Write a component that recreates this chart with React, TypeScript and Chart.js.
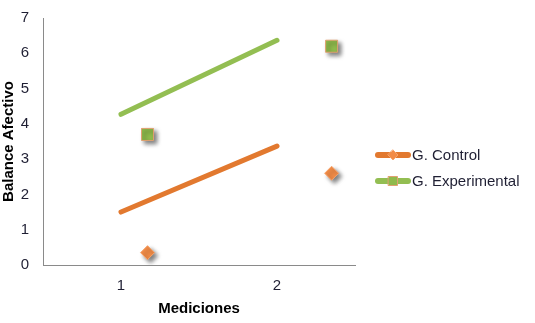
import React, { useEffect, useRef } from "react";
import { Chart, registerables } from "chart.js";

Chart.register(...registerables);

const xTicks = [1, 2];
const seriesNames = ["G. Control", "G. Experimental"];
const lineX = [1, 2];
const controlLineY = [1.5, 3.37];
const expLineY = [4.27, 6.37];
const markerX = [1.17, 2.35];
const controlMarkerY = [0.35, 2.6];
const expMarkerY = [3.7, 6.2];
const yMin = 0;
const yMax = 7;

const FONT = '"Liberation Sans", Arial, sans-serif';
const lineColors = ["#E2792F", "#93BE52"];
const markerFill = ["#F28C47", "#8FBA4C"];
const markerBorder = ["#F6A46C", "#E0A070"];
const textColor = "#1f1f33";

const pts = (xs: number[], ys: number[]) => xs.map((x, i) => ({ x, y: ys[i] }));

const shadowPlugin = {
  id: "markerShadow",
  beforeDatasetDraw(chart: any, args: any) {
    const ds = chart.data.datasets[args.index];
    if (ds.type === "scatter") {
      const ctx = chart.ctx;
      ctx.save();
      ctx.shadowColor = "rgba(0,0,0,0.5)";
      ctx.shadowBlur = 4;
      ctx.shadowOffsetX = 3;
      ctx.shadowOffsetY = 3;
    }
  },
  afterDatasetDraw(chart: any, args: any) {
    const ds = chart.data.datasets[args.index];
    if (ds.type === "scatter") chart.ctx.restore();
  },
};

const legendPlugin = {
  id: "sideLegend",
  afterDraw(chart: any) {
    const { ctx, chartArea } = chart;
    const x0 = chartArea.right + 20;
    seriesNames.forEach((name, i) => {
      const y = chartArea.top + 137 + i * 26;
      ctx.save();
      ctx.lineCap = "round";
      ctx.lineWidth = 6;
      ctx.strokeStyle = lineColors[i];
      ctx.beginPath();
      ctx.moveTo(x0 + 3, y);
      ctx.lineTo(x0 + 33, y);
      ctx.stroke();
      const cx = x0 + 18;
      ctx.fillStyle = markerFill[i];
      ctx.strokeStyle = markerBorder[i];
      ctx.lineWidth = 1;
      ctx.beginPath();
      if (i === 0) {
        ctx.moveTo(cx, y - 5);
        ctx.lineTo(cx + 5, y);
        ctx.lineTo(cx, y + 5);
        ctx.lineTo(cx - 5, y);
        ctx.closePath();
      } else {
        ctx.rect(cx - 4.5, y - 4.5, 9, 9);
      }
      ctx.fill();
      ctx.stroke();
      ctx.fillStyle = textColor;
      ctx.font = `15px ${FONT}`;
      ctx.textBaseline = "middle";
      ctx.textAlign = "left";
      ctx.fillText(name, x0 + 37, y + 1);
      ctx.restore();
    });
  },
};

export default function App() {
  const ref = useRef<HTMLCanvasElement | null>(null);
  useEffect(() => {
    if (!ref.current) return;
    const chart = new Chart(ref.current, {
      type: "line",
      data: {
        datasets: [
          {
            type: "line",
            label: seriesNames[0],
            data: pts(lineX, controlLineY),
            borderColor: lineColors[0],
            borderWidth: 5,
            borderCapStyle: "round",
            pointRadius: 0,
            fill: false,
          },
          {
            type: "line",
            label: seriesNames[1],
            data: pts(lineX, expLineY),
            borderColor: lineColors[1],
            borderWidth: 5,
            borderCapStyle: "round",
            pointRadius: 0,
            fill: false,
          },
          {
            type: "scatter",
            label: seriesNames[0] + " pts",
            data: pts(markerX, controlMarkerY),
            pointStyle: "rectRot",
            pointRadius: 7,
            backgroundColor: markerFill[0],
            borderColor: markerBorder[0],
            borderWidth: 1,
            showLine: false,
          },
          {
            type: "scatter",
            label: seriesNames[1] + " pts",
            data: pts(markerX, expMarkerY),
            pointStyle: "rect",
            pointRadius: 8.5,
            backgroundColor: markerFill[1],
            borderColor: markerBorder[1],
            borderWidth: 1,
            showLine: false,
          },
        ] as any,
      },
      options: {
        animation: false,
        responsive: false,
        layout: { padding: { top: 18, right: 180, bottom: 0, left: 0 } },
        plugins: {
          legend: { display: false },
          tooltip: { enabled: false },
          title: { display: false },
        },
        scales: {
          x: {
            type: "linear",
            min: 0.5,
            max: 2.5,
            afterBuildTicks: (scale: any) => {
              scale.ticks = xTicks.map((v) => ({ value: v }));
            },
            afterFit: (scale: any) => {
              scale.height = 58;
              scale.paddingLeft = 0;
              scale.paddingRight = 0;
            },
            grid: { display: false, drawTicks: false },
            border: { display: true, color: "#8a8a8a", width: 1 },
            ticks: {
              padding: 12,
              color: textColor,
              font: { family: FONT, size: 15 },
              callback: (v: any) => String(v),
            },
            title: {
              display: true,
              text: "Mediciones",
              color: "#000",
              font: { family: FONT, size: 15, weight: "bold" },
              padding: { top: 4, bottom: 5 },
            },
          },
          y: {
            type: "linear",
            min: yMin,
            max: yMax,
            afterFit: (scale: any) => {
              scale.width = 43;
              scale.paddingTop = 0;
              scale.paddingBottom = 0;
            },
            grid: { display: false, drawTicks: false },
            border: { display: true, color: "#8a8a8a", width: 1 },
            ticks: {
              stepSize: 1,
              padding: 14,
              color: textColor,
              font: { family: FONT, size: 15 },
            },
            title: {
              display: true,
              text: "Balance Afectivo",
              color: "#000",
              font: { family: FONT, size: 15, weight: "bold" },
              padding: { top: 0, bottom: 0 },
            },
          },
        },
      } as any,
      plugins: [shadowPlugin, legendPlugin],
    });
    return () => chart.destroy();
  }, []);
  return (
    <div style={{ position: "absolute", left: 0, top: 0, width: 535, height: 323, background: "#fff" }}>
      <canvas ref={ref} width={535} height={323} style={{ display: "block" }} />
    </div>
  );
}
